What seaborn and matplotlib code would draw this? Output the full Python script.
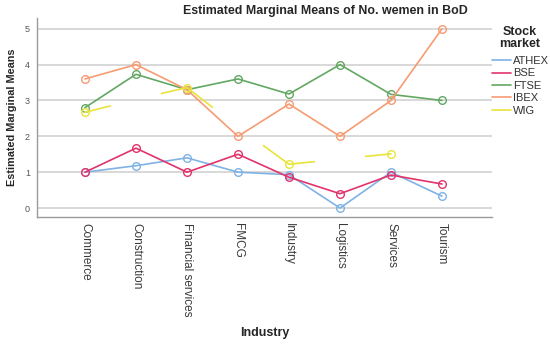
import numpy as np
import pandas as pd
import matplotlib
matplotlib.use("Agg")
import matplotlib.pyplot as plt
from matplotlib.lines import Line2D
import seaborn as sns

industries = ["Commerce", "Construction", "Financial services", "FMCG",
              "Industry", "Logistics", "Services", "Tourism"]
markets = ["ATHEX", "BSE", "FTSE", "IBEX", "WIG"]

athex = [1.0, 1.18, 1.4, 1.0, 0.93, 0.0, 1.0, 0.33]
bse = [1.0, 1.67, 1.0, 1.5, 0.86, 0.4, 0.92, 0.67]
ftse = [2.8, 3.73, 3.3, 3.6, 3.18, 4.0, 3.17, 3.0]
ibex = [3.6, 4.0, 3.3, 2.0, 2.9, 2.0, 3.0, 5.0]
wig = [2.67, 3.03, 3.36, 2.26, 1.22, 1.37, 1.51, np.nan]
wig_estimable = [True, False, True, False, True, False, True, False]

colors = {"ATHEX": "#7fb2e5", "BSE": "#e2336b", "FTSE": "#62a862",
          "IBEX": "#f79b72", "WIG": "#e8e43a"}

sns.set_style("white")
plt.rcParams["font.family"] = ["Liberation Sans", "DejaVu Sans"]

fig = plt.figure(figsize=(5.5, 3.44), dpi=100)
ax = fig.add_axes([37 / 550, 1 - 217 / 344, (492 - 37) / 550, (217 - 18) / 344])

xs = np.arange(len(industries))
full = {"ATHEX": athex, "BSE": bse, "FTSE": ftse, "IBEX": ibex}
for name, vals in full.items():
    df = pd.DataFrame({"x": xs, "y": vals})
    sns.lineplot(data=df, x="x", y="y", ax=ax, color=colors[name], lw=1.2,
                 marker="o", markersize=5.5, markerfacecolor="none",
                 markeredgecolor=colors[name], markeredgewidth=1.0,
                 legend=False)

# WIG: markers only where estimable, half segments towards neighbours
wv = np.array(wig, dtype=float)
est = np.array(wig_estimable)
for i in range(len(xs)):
    if not est[i]:
        continue
    for j in (i - 1, i + 1):
        if 0 <= j < len(xs) and not np.isnan(wv[j]):
            ax.plot([xs[i], (xs[i] + xs[j]) / 2], [wv[i], (wv[i] + wv[j]) / 2],
                    color=colors["WIG"], lw=1.2)
dfw = pd.DataFrame({"x": xs[est], "y": wv[est]})
sns.lineplot(data=dfw, x="x", y="y", ax=ax, color=colors["WIG"], lw=0,
             marker="o", markersize=5.5, markerfacecolor="none",
             markeredgecolor=colors["WIG"], markeredgewidth=1.0, legend=False)

ax.set_xlim(-0.94, 7.98)
ax.set_ylim(-0.25, 5.3)
ax.set_yticks([0, 1, 2, 3, 4, 5])
ax.set_xticks(xs)
ax.set_xticklabels(industries, rotation=-90, fontsize=8.5, color="#3a3a3a")
ax.tick_params(axis="y", labelsize=6.5, colors="#555555", length=0, pad=5)
ax.tick_params(axis="x", length=0, pad=4)
ax.grid(axis="y", color="#d6d6d6", lw=1.3)
ax.set_axisbelow(True)
for s in ["top", "right"]:
    ax.spines[s].set_visible(False)
for s in ["left", "bottom"]:
    ax.spines[s].set_color("#9a9a9a")
    ax.spines[s].set_linewidth(1.0)

ax.set_xlabel("")
ax.set_ylabel("")
fig.text(265 / 550, 1 - 333 / 344, "Industry", ha="center", va="center",
         fontsize=9, fontweight="bold")
fig.text(12 / 550, 1 - 117 / 344, "Estimated Marginal Means", ha="center",
         va="center", rotation=90, fontsize=7.8, fontweight="bold")

fig.text(325 / 550, 1 - 11 / 344, "Estimated Marginal Means of No. wemen in BoD",
         ha="center", va="center", fontsize=8.9, fontweight="bold")

fig.text(520 / 550, 1 - 38 / 344, "Stock\nmarket", ha="center", va="center",
         fontsize=9, fontweight="bold", linespacing=1.0)
hl = [Line2D([0], [0], color=colors[m], lw=1.2) for m in markets]
leg = ax.legend(hl, markets, loc="upper left",
                bbox_to_anchor=(492 / 550, 1 - 56 / 344), bbox_transform=fig.transFigure,
                frameon=False, fontsize=8, handlelength=1.7, handletextpad=0.2,
                labelspacing=0.22, borderaxespad=0, borderpad=0)
for t in leg.get_texts():
    t.set_color("#333333")

fig.savefig("out.png", dpi=100)
